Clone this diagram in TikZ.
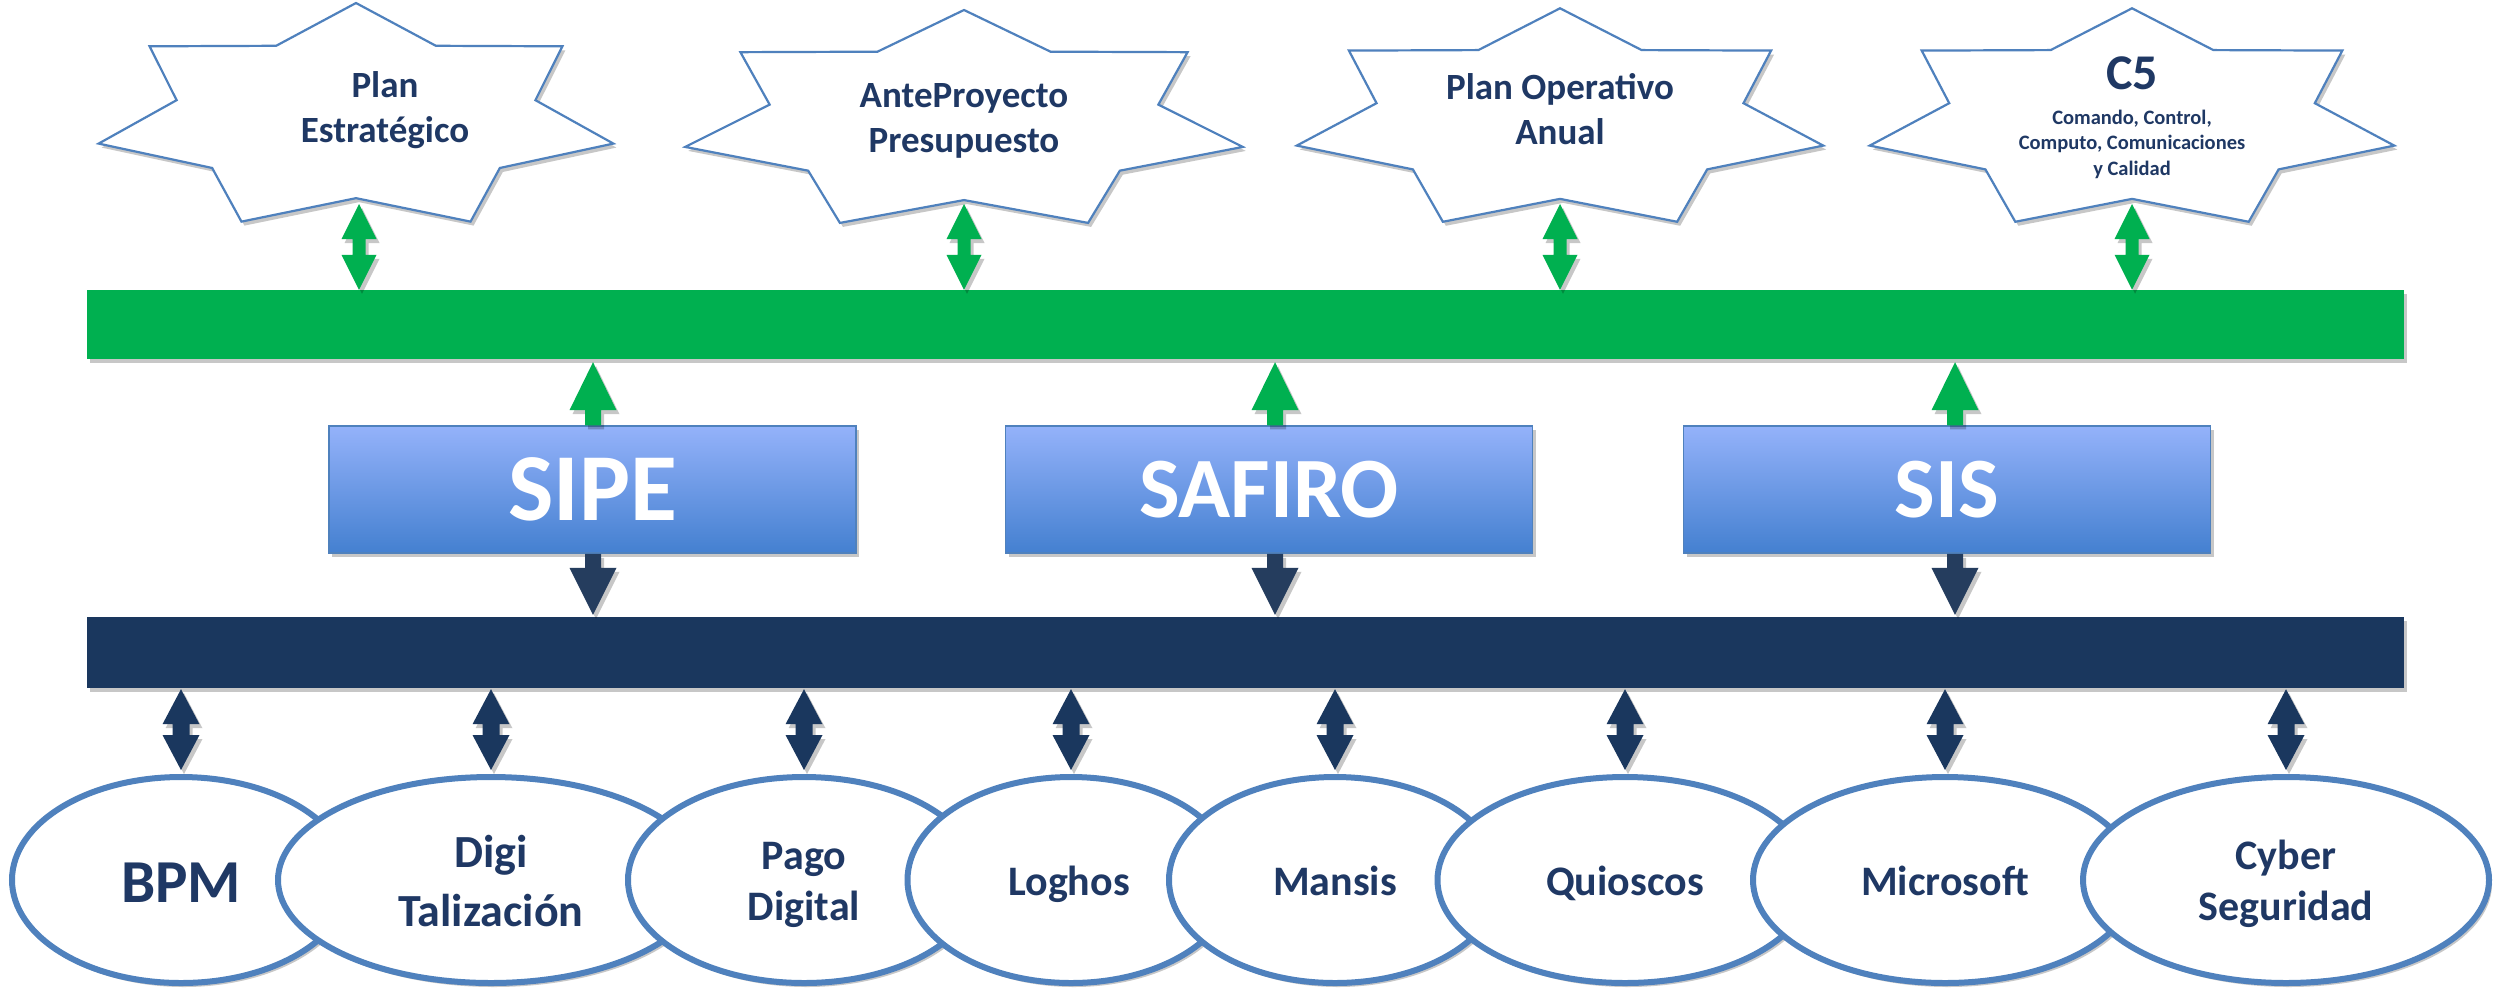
\documentclass[tikz,border=0pt]{standalone}
\usepackage{fontspec}
\setmainfont{Carlito}
\usetikzlibrary{shapes.geometric,calc,shadows}
\definecolor{gbarc}{RGB}{0,176,80}
\definecolor{navyc}{RGB}{26,55,94}
\definecolor{navyarr}{RGB}{37,61,94}
\definecolor{txtc}{RGB}{31,56,100}
\definecolor{outl}{RGB}{79,129,189}
\definecolor{boxtop}{RGB}{148,178,250}
\definecolor{boxbot}{RGB}{68,128,208}
\tikzset{
 shdw/.style={drop shadow={shadow xshift=3pt,shadow yshift=-4pt,opacity=0.22,fill=black}},
 starsty/.style={draw=outl,line width=2.2pt,fill=white,line join=miter,shdw},
 sttext/.style={font=\bfseries\fontsize{37}{44.5}\selectfont,text=txtc,align=center,anchor=base,inner sep=0pt},
 barsty/.style={rectangle,inner sep=0pt,minimum width=2317pt,shdw},
 sysbox/.style={rectangle,draw=outl,line width=1.5pt,top color=boxtop,bottom color=boxbot,minimum width=527pt,minimum height=127pt,inner sep=0pt,text=white,shdw},
 ell/.style={ellipse,draw=outl,line width=6pt,fill=white,inner sep=0pt,minimum height=206pt,shdw},
 eltext/.style={font=\bfseries\fontsize{42}{51}\selectfont,text=txtc,align=center,anchor=base,inner sep=0pt},
 garr/.style={fill=gbarc,shdw},
 narr/.style={fill=navyc,shdw},
 darr/.style={fill=navyarr,shdw},
}
\newcommand\starshp[4]{%
 \draw[starsty] plot[variable=\k,samples at={0,...,13}]
 ({#1+(1-0.303*mod(\k,2))*#3*cos(90+\k*360/14)},{#2-(1-0.303*mod(\k,2))*#4*sin(90+\k*360/14)}) -- cycle;}
\newcommand\sglarr[6]{%
 \path ($(#3)!#4!(#2)$) coordinate (hb);
 \fill[#1] ($(#2)!#6!90:(#3)$) -- ($(hb)!#6!90:(#3)$) -- ($(hb)!#5!90:(#3)$) -- (#3)
 -- ($(hb)!#5!-90:(#3)$) -- ($(hb)!#6!-90:(#3)$) -- ($(#2)!#6!-90:(#3)$) -- cycle;}
\newcommand\dblarr[6]{%
 \path ($(#2)!#4!(#3)$) coordinate (da) ($(#3)!#4!(#2)$) coordinate (db);
 \fill[#1] (#2) -- ($(da)!#5!90:(#3)$) -- ($(da)!#6!90:(#3)$) -- ($(db)!#6!90:(#3)$) -- ($(db)!#5!90:(#3)$) -- (#3)
 -- ($(db)!#5!-90:(#3)$) -- ($(db)!#6!-90:(#3)$) -- ($(da)!#6!-90:(#3)$) -- ($(da)!#5!-90:(#3)$) -- cycle;}
\begin{document}
\begin{tikzpicture}[x=1pt,y=-1pt]
\useasboundingbox (0,0) rectangle (2496,994);
\fill[white] (0,0) rectangle (2496,994);

% bars
\node[barsty,fill=gbarc,minimum height=69pt] (gbar) at (1245.5,324.5) {};
\node[barsty,fill=navyc,minimum height=71pt] (nbar) at (1245.5,652.5) {};

% stars (multi-line text nodes are anchored at the baseline of their last line)
\starshp{356}{118}{264}{115}
\node[sttext] (t1) at (385,142) {Plan\\Estratégico};
\starshp{964}{122}{286}{112}
\node[sttext] (t2) at (964,152) {AnteProyecto\\Presupuesto};
\starshp{1560}{120.6}{270}{112.3}
\node[sttext] (t3) at (1560,144) {Plan Operativo\\Anual};
\starshp{2132}{120.6}{269}{112.3}
\node[sttext,font=\bfseries\fontsize{50}{56}\selectfont] (t4) at (2132,89) {C5};
\node[sttext,font=\bfseries\fontsize{20.5}{25.5}\selectfont] (t4b) at (2132,175) {Comando, Control,\\Computo, Comunicaciones\\y Calidad};

\coordinate (s1) at (359,204);
\coordinate (s2) at (964,204);
\coordinate (s3) at (1560,204);
\coordinate (s4) at (2132,204);
\foreach \s in {s1,s2,s3,s4}{
 \coordinate (\s b) at (\s |- gbar.north);
 \dblarr{garr}{\s}{\s b}{35pt}{17.5pt}{6.5pt}
}

% system boxes
\node[sysbox,font=\bfseries\fontsize{96}{110}\selectfont] (sipe) at (592.5,489.5) {SIPE};
\node[sysbox,font=\bfseries\fontsize{86}{100}\selectfont] (safiro) at (1269,489.5) {SAFIRO};
\node[sysbox,font=\bfseries\fontsize{86}{100}\selectfont] (sis) at (1947,489.5) {SIS};

\foreach \b/\x in {sipe/593,safiro/1275,sis/1955}{
 \coordinate (\b x) at (\x,0);
 \coordinate (\b ut) at (\b x |- \b.north);
 \coordinate (\b uh) at ($(\b x |- gbar.south)+(0,3)$);
 \sglarr{garr}{\b ut}{\b uh}{48pt}{23.5pt}{8pt}
 \coordinate (\b dt) at (\b x |- \b.south);
 \coordinate (\b dh) at ($(\b x |- nbar.north)+(0,-2)$);
 \sglarr{darr}{\b dt}{\b dh}{47pt}{23.5pt}{8pt}
}

% ellipses
\node[ell,minimum width=338pt] (e1) at (181,880) {};
\node[eltext,font=\bfseries\fontsize{61}{70}\selectfont] at (181,902) {BPM};
\node[ell,minimum width=426pt] (e2) at (491,880) {};
\node[eltext,font=\bfseries\fontsize{46}{59}\selectfont] at (491,926) {Digi\\Talización};
\node[ell,minimum width=352pt] (e3) at (804,880) {};
\node[eltext] at (804,920) {Pago\\Digital};
\node[ell,minimum width=327pt] (e4) at (1071,880) {};
\node[eltext] at (1069,895) {Loghos};
\node[ell,minimum width=332pt] (e5) at (1335,880) {};
\node[eltext] at (1335,895) {Mansis};
\node[ell,minimum width=375pt] (e6) at (1625,880) {};
\node[eltext] at (1625,895) {Quioscos};
\node[ell,minimum width=384pt] (e7) at (1945,880) {};
\node[eltext] at (1945,895) {Microsoft};
\node[ell,minimum width=406pt] (e8) at (2286,880) {};
\node[eltext] at (2286,920) {Cyber\\Seguridad};

\foreach \e in {e1,e2,e3,e4,e5,e6,e7,e8}{
 \coordinate (\e t) at ($(\e.north |- nbar.south)+(0,1)$);
 \coordinate (\e b) at ($(\e.north)+(0,-4)$);
 \dblarr{narr}{\e t}{\e b}{35pt}{18.5pt}{8.5pt}
}
\end{tikzpicture}
\end{document}
